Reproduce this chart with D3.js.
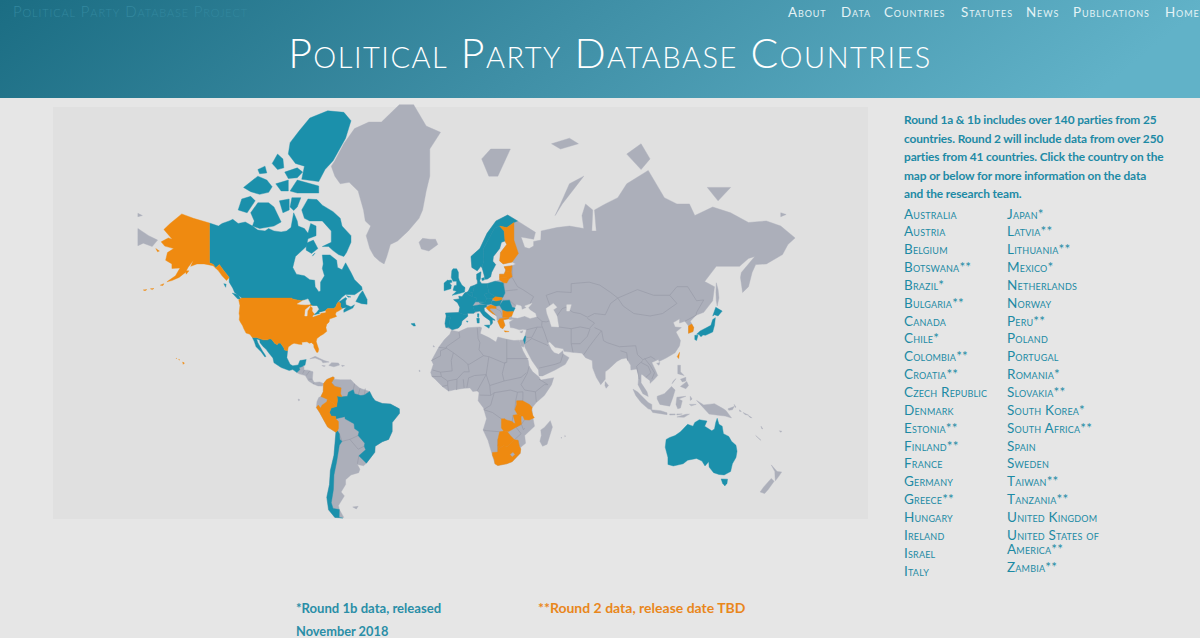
<!DOCTYPE html>
<html><head><meta charset="utf-8">
<style>html,body{margin:0;padding:0;background:#e6e6e6;overflow:hidden}svg{display:block}</style>
<script src="https://cdn.jsdelivr.net/npm/d3@7"></script></head>
<body><svg id="c" width="1200" height="638"></svg>
<script>
// ---- text ----
const navLabels=["About","Data","Countries","Statutes","News","Publications","Home"];
const intro=["Round 1a & 1b includes over 140 parties from 25","countries. Round 2 will include data from over 250","parties from 41 countries. Click the country on the","map or below for more information on the data","and the research team."];
const listLeft=["Australia","Austria","Belgium","Botswana**","Brazil*","Bulgaria**","Canada","Chile*","Colombia**","Croatia**","Czech Republic","Denmark","Estonia**","Finland**","France","Germany","Greece**","Hungary","Ireland","Israel","Italy"];
const listRight=["Japan*","Latvia**","Lithuania**","Mexico*","Netherlands","Norway","Peru**","Poland","Portugal","Romania*","Slovakia**","South Korea*","South Africa**","Spain","Sweden","Taiwan**","Tanzania**","United Kingdom","United States of","America**","Zambia**"];
const eurasia=[[-9,37,-9.5,38.8,-8.8,42,-9.2,43.2,-1.8,43.4,-1.2,45.5,-2.5,47.3,-4.7,48.4,-1.5,48.7,-1.8,49.7,0,49.5,1.6,50.9,3.5,51.4,4.7,53,7,53.5,8.6,54,8.2,55.5,8.2,57,10.6,57.7,10.2,55.5,9.8,54.9,11,54,14,54,18.5,54.8,21,55.2,21,57,23.5,57,24.4,58.3,23.5,59.2,28,59.5,30,60,28,60.5,23,60,21.3,60.8,21.5,63,25,65,24,65.8,22,65.5,21,64,17.5,62,17.2,60.7,18.8,59.8,16.5,57.5,16,56.2,14.2,55.5,13,55.4,11.2,59,10.5,59.3,8.5,58,5.5,59,5,62,10,64,14,67.5,19,70,25.5,71.1,31,70,41,67.7,40,66.2,33,66.7,35,64.3,37.5,64,40,64.6,40,65.7,44,66,44.2,68,53,68.7,60,69,68,68.5,67,71,69,73,73,72,72.5,68,75,68,74,72,80,73,87,74,92,76,104,77.7,113,74,120,73,127,73,130,71,140,72.5,150,71.5,160,69.7,170,70,178,69,186,66.5,182,65,179,62.5,170,60,164,59.8,162,57.5,160,53,156.7,51,155.5,56,156,57.5,163.5,62,160,61.5,155,59.3,142,59.3,135.5,54.7,141,53,140,48,135,43.5,130.7,42.3,127.5,39.8,129.4,37,129,35.2,126.5,34.4,126.5,37.7,124.5,39.8,121.5,39,121.5,40.8,118,39.2,119,37.3,122.5,37,119.5,35,122,31,121.5,28.5,119,25,114,22.3,110,20.5,109.7,21.5,106,20,108,16,109.3,13,107,10.5,105,8.7,105,10.2,102.5,12,100.8,13.4,100,13.5,100,9,103.3,4,104,1.4,101,3,98.3,8,98.7,13,97.5,16.5,94.3,16,94.2,18.5,91.8,22.3,89,21.8,86.5,20.5,82,16.5,80,15,80,11,77.5,8,75,12,73,17,72.7,21,69,22.5,67,24.8,61.5,25.2,57,25.7,56.5,27,52,27.7,49,30.3,48,30,50,26.5,51.5,25,54,24.2,56.3,26,56.5,24.4,59.8,22.5,57.7,19,52,16,45,12.8,43,12.8,42.7,16,39,21,35,28,34.9,29.5,34.3,27.8,33,28.5,32.5,29.9,32.3,31.2,34.2,31.3,35,32.7,36,36,34,36.3,32,36,29,36.8,27,37,26.5,39.5,29,40.6,26.7,40.5,26,40.7,23,40.4,24,38,22.8,36.5,21.5,37,19.5,40.5,19.4,42,15,44,13.7,45.5,12.3,45.3,12.5,44,16,41.7,18.5,40.2,16.9,40.4,17,39,16,38,15.7,40,12,42,10,44,6.5,43.1,3.1,43.1,3.2,41.9,0,39.9,-0.5,38.2,-2,36.8,-5.5,36]];
const africa=[[-5.9,35.8,-2,35.1,3,36.9,10,37.3,11,36.9,10.2,34.3,15,32.4,19,30.3,20,32.7,25,31.6,29,31,32,31.2,32.5,29.9,34,26,37,21,37.5,18,39.5,15,43,12.2,44,10.5,51.2,11.8,50,8,46,2,41.5,-2,39,-5,39.5,-10,40.5,-15,35,-20,35.5,-24,32.8,-26,32.5,-29,28,-33,25,-34,20,-34.8,18.4,-34,17,-30,14.5,-22.5,11.8,-17,13.7,-11,12,-5,9,-1,9.5,3.5,8.5,4.5,6,4.2,4.5,6.2,1.5,6,-4,5.2,-7.5,4.4,-11,7,-15,11,-16.8,12.5,-17.5,14.7,-16,19,-17,21,-13,27.7,-9.8,31.5,-6.8,34]];
const southAmerica=[[-77.3,8.6,-75.5,10.8,-72,12.3,-71.5,11,-68,10.7,-62,10.7,-60,8.5,-57,6,-51.6,4.2,-50,1,-48.5,-1,-44.5,-2.5,-40,-2.8,-35,-5.5,-34.9,-8,-39,-13,-39,-17.9,-41,-22,-44.5,-23.2,-48.5,-25.5,-48.7,-28.5,-53.4,-33.7,-55,-34.9,-58.4,-34.3,-57,-36.5,-57.7,-38,-62,-39,-65,-41,-65,-43,-67.5,-46,-65.7,-47.5,-69,-51,-68.5,-52.4,-66,-55,-71,-55,-74.5,-52.5,-75.5,-48,-74,-43,-73.5,-37,-71.5,-30,-70.4,-18.3,-75,-15.5,-77,-12,-79.5,-7.5,-81.3,-4.8,-81,-1.5,-80,0.8,-78.8,1.4,-77.5,4,-77.4,7]];
const centralAmerica=[[-92.2,14.6,-91,17.2,-89.1,17.9,-88.3,18.5,-88.2,16,-86,15.9,-83.2,15,-83.6,11,-82.5,9.2,-79.5,9.5,-77.3,8.6,-77.9,7.2,-80.4,7.3,-83,8.3,-85.7,10,-87.5,13,-91,13.9]];
const greenland=[[-73,78.2,-71,78.8,-66,80.5,-60,81.8,-52,82.3,-45,82.3,-35,83.5,-27,83.5,-20,82,-12,81.5,-18,80,-18,77,-20,75,-22,72,-24,70.5,-30,68,-36,65.8,-40,65,-42,62,-43.5,60,-46,60.7,-49,62,-51.5,64,-53.5,67,-51,69,-54,70,-55,72,-58,75,-63,76.2,-68,76,-71,77]];
const greyIslands=[
[-24,65.5,-22,66.4,-18,66.2,-14.8,66.2,-13.5,65,-18.5,63.4,-22.7,63.9],[11,79,16,80,27,80,20,77,15,77],[52,71,56,73,68,77,60,76,55,73],[50,80.5,60,81,65,80.5,55,80],[92,79.5,100,80.5,105,79,100,77.8],[137,75.5,150,75.5,143,73.5],[178,71.5,181,71.2,178,70.8],
[-181,68.5,-175,67,-170,66,-173,64.5,-178,65.3,-181,64.7],[-181,71.4,-178.5,71,-181,70.8],
[-85,21.9,-82,23.2,-77,21,-74.2,20.2,-77.7,19.8,-78.5,21,-82,22.3],[-74.4,18.4,-72.8,19.9,-69,19.7,-68.4,18.6,-71.5,17.7],[-78.3,18.4,-76.3,18.2,-77,17.8],[-67.2,18.5,-65.6,18.3,-67,17.9],[-61,-51.5,-58,-51.3,-59,-52.2],[-91.5,0,-90.5,-0.5,-91.3,-1],
[49.3,-12,50.5,-15.5,47.5,-24.5,45,-25.5,43.5,-23,44.3,-20,44,-17,46,-15.7],[57.4,-20,57.8,-20.3,57.4,-20.6],[55.3,-21,55.8,-21.1,55.4,-21.4],[-16,28.6,-15.3,28,-16,27.9],[-24,16,-23.3,15.5,-23.8,15],[34,35.6,32.3,35,33.5,34.6],
[142,54.3,143,52,143.5,49,142.5,46,142,48,141.8,51],[80,9.7,81.8,7.5,80.5,6,79.8,7.5],[108.7,19.5,110.5,20,110,18.5],[95.5,5.5,98,4,104,-2,106,-3,106,-6,104,-5.5,100,-2,97,2],[109,1.5,113,3,117,7,119,5,117.8,1,116,-4,110.5,-3,109,0],[105.5,-6,111,-6.5,114.5,-7.7,114.5,-8.7,106.5,-7.5],[116,-8.3,119,-8.3,119,-8.8,116,-8.9],[120,-8.3,123,-8.3,120,-8.9],[120,-10,125,-8.5,127,-8.4,124,-10.2],[120,1,125,1.5,121,0,123,-1,122,-5,120.5,-5.5,119.5,-3],[127.5,1.5,128.5,0,127.5,-0.8],[127,-3,130.8,-3,128,-3.8],[131,-0.8,135,-3.3,141,-2.6,146,-5.5,147.5,-6.5,150.5,-10.5,147,-9.5,143,-9,138,-8.4,134,-4],[148.5,-5.5,152,-4.2,151,-6,149,-6.3],[152,-3,153,-4.5,152.5,-4.7],[155,-6,156,-7,155,-6.8],[157,-7.5,160,-9,158,-8.6],[160,-9.2,162,-10.5,160.5,-10],[120.5,18.5,122,18.5,122,15,124,13,120.5,14],[122,7,125.5,9.7,126.5,7.5,125,5.7],[122,11,125,12,125,10,123,9.5],[118,10,119.5,11.3,117.3,8.5],
[164,-20,167,-22.5,166,-21.8],[167,-15,168,-16.5,167.3,-16.2],[177.2,-17.5,178.6,-17.7,178,-18.3],[172.7,-34.5,176,-37.5,178.5,-37.7,177,-39.5,175,-41.5,174.8,-39.8,174.7,-37.5],[172.7,-40.5,174.3,-41.7,171,-45,169,-46.6,166.5,-46,168.5,-44]
];
const borders=[
[-1.7,35,-1.2,32.5,-8.7,28,-8.7,27.3,-13,27.7],[-8.7,27.3,-12,26,-12,23.4,-17,21],[-8.7,27.3,-4.8,25,-6,21,-5.5,15.5,-12,14.8,-16.5,16],[-4.8,25,1,21,3.3,19,4.2,19.1,12,23.5],[8.5,36.9,9,32,10,30,9.5,26.5,12,23.5],[25,31.6,25,20,24,20,24,19.5,15,23,12,23.5],[25,22,37,22],[24,20,22.5,14,23.5,10],[15,23,13.5,13.5],[3.7,11.7,7,13,13.5,13.5],[3.3,19,4,15,1,15,-2.8,11,-5.5,10.5,-8,10],[2.7,6.3,3.7,11.7],[8.5,4.6,13.5,13.5],[15.5,7.5,23.5,10],[13.5,13.5,15.5,7.5,16,2],[9.8,2.2,16,2,18,3.5,27,5,31,3.8,34,4],[23.5,10,33,12,36,14.5],[37.5,18,36.5,14.3,33,8,35,5,41,4,46,8,48,8,43,11],[34,4,34,1,33.9,-1],[41,4,41.5,-1.7],[18,3.5,16,-3.5,12.2,-5.8],[12.2,-6,17,-7.5,22,-11],[11.8,-17,13.7,-17.4,21,-18],[20,-22,20,-28.4],[-12,14.8,-11.5,12.4,-16.8,12.5],[-11.5,12.4,-8,10,-8,7.7,-11,7],[-8,7.7,-7.5,4.4],[-3,5,-2.8,11],[1.2,6.1,0.7,11],[31,3.8,30,-1,29.5,-6],[31,-1,34,-1],[34.9,-11.5,33.2,-14,34.3,-17,35,-16],[33.2,-14,30.2,-15.6],[29.3,-22.2,33,-19,30.2,-15.6],[32,-25.5,31.3,-22.4],[28.5,-9,28,-12.5],
[-60.7,5.2,-60,8.5],[-56.9,6,-58,2],[-54,5.8,-54.5,2.3],[-67.5,6.2,-71,7,-72.9,9,-71.3,11.8],[-68.5,-19,-67,-23,-62.6,-22,-58,-20],[-62.6,-22,-58,-27,-54.6,-25.5],[-58.4,-34,-57.6,-30.2],[-89,14,-88,16],[-87,13,-85,15.5],[-83.5,11,-85.7,11],[-83,8.3,-82.5,9.2],
[28,59.5,28,56,31,53,34,52,40,49.5,38,47],[23.5,51.5,31,52],[22.2,48.3,26.5,48.2,30,46],[24,50.8,23.5,51.5,23.3,54.3],[26.5,55.7,28,56],[19,45,21.5,44,22.8,41.4,20.5,41],[19.4,42,18.5,42.5],[19,45.8,19,45],[49,46.3,47,50,53,51.3,61,51,61,54,71,54.5,77,53.5,83,51,87,49],[87,49,98,52,107,50,116,50,120,47,112,43,105,42,96,43,90,46,87,49],[116,50,120,53,126,53,131,48,135,48.3,131,43.5,130.7,42.3],[130.7,42.3,124.5,39.8],[53,42,56,45,58,45.5,62,43.5,66,43,70,41.5,74,43,80,42.5,83,47,87,49],[54,37.3,61,36.5,66,37.3,71,36.5,74,39,70,41],[48,30,46,35,44.5,38,44.7,39.7,42,41.5],[36,36,42,37.2,44.5,37.2],[42,37.2,39,32.5,36,32.5],[35,29.4,39,32,47,29,48,28.5],[43,17,52,19,55,20,56.5,24.4],[61,36.5,61,29.5,62,25.2],[61,29.5,66,29.5,70,33,71.5,36.5],[68,24,71,28,74.5,32,77.8,35.5],[74,37,78,35.5,79,31,81,30,88,28,97,28.5,98,24,101,21.5,105.5,23,108,21.5],[101,21,97.5,18,99,11],[100,20,104,18,105.5,14.5,102.7,12],[102,22,105,18.5,107.5,14.5,106,11],[88.5,26,92,25,92.5,21],[44.7,39.7,47,39.5,49,40]
];
const blackSea=[27.9,42.5,28.7,43.8,29.7,45.2,30.5,46.5,33,46,33.5,44.5,36,45.3,35,46,39,47,37,45.3,38,44.4,41,43,41.5,41.7,38,41,35,42,31,41.2,28,41.5];
const caspian=[47,45,51,47,53,45.5,51,44.5,53,42,54,37.3,50,37.5,49,40,47.5,43];
const aral=[58.5,46.5,61,46.5,60,44,58.5,44];
const greatLakes=[[-92,46.8,-89,48,-86,48.7,-84.7,47,-85,46.6,-87.5,46.5,-90,46.6],[-87.8,42,-87.5,44.5,-85,46,-84.8,45.7,-86.3,44,-86.5,42],[-84.5,46,-81,46,-80,44.7,-81.7,43.2,-82.5,43,-83.5,44,-83.3,45.2],[-83.3,41.7,-79,42.8,-79,43,-83,42.2],[-79.7,43.3,-76.3,44,-76.3,43.5,-79,43.2]];
const water=[blackSea,caspian,aral];
// teal countries
const canada=[[-141,69.6,-136,69,-134,69.5,-130,70,-128,70.3,-125,69.5,-121,69.8,-117,69,-114,68.2,-110,68,-108,68.5,-105,68,-101,67.8,-98,68,-95.5,68.7,-94,71.5,-92,70,-91.5,69,-88,68.5,-86,67.5,-84.5,69.5,-81.5,69,-81.5,67,-86,66.3,-87,64.5,-93,62,-94.5,59,-92.5,57,-88,56.5,-85,55.3,-82.3,55.1,-82,53,-80,51.3,-79,51.5,-79,54.5,-76.8,56.5,-78,58.7,-77.5,60,-78,62.4,-73.7,62.4,-70,61,-69.5,59,-67,58.3,-65,60.3,-62,57.5,-60,55.3,-56,53,-55.7,52,-60,50.2,-65,50.3,-67,49.3,-70,47,-65,49.2,-64.3,48.8,-65,47.9,-64.8,46.5,-62,45.7,-60,46.5,-61,45.2,-66,43.5,-66,44.5,-64.5,45.4,-67,45.1,-67.8,45.7,-67.8,47.07,-68.3,47.35,-69.2,47.45,-70,46.7,-70.3,45.9,-71.5,45,-75,45,-76.3,44.2,-76.8,43.6,-79.1,43.5,-78.9,42.9,-82.7,41.7,-83.1,42,-82.5,42.6,-82.1,43.6,-82.5,45.3,-83.6,46.1,-84.5,46.5,-84.9,46.9,-88.4,48.3,-89.5,48,-92,48.3,-94.6,48.7,-95.2,49,-123,49,-125,50,-127,51,-128,52.5,-130,54.5,-130,56,-133.5,58.4,-135.5,59.8,-137.5,58.9,-139,59.9,-141,60.3],
[-89.5,72,-86,73.8,-81,73.7,-78,72.8,-72,71.7,-68,70.5,-67,69,-62,67,-62,65.5,-64.5,63,-66,62,-69,62.5,-72,63.5,-74.5,64.5,-78,64.5,-73,65.5,-73,68,-78,70,-85,70,-88,70.5],
[-118,71.5,-114,73.2,-108,73.2,-105,72.5,-101,69.8,-105,69,-113,68.5,-117,69,-116,70],[-125,72,-123,73.8,-118,74.2,-115.5,73.5,-120,71.5],[-122,75.5,-114,77,-109,76.5,-106,75.6,-108,74.8,-113,74.5,-118,74.9],[-96,75,-92,76.5,-80,75.7,-80,74.7,-92,74.7],
[-89.5,76.6,-80,76.3,-76.5,77.8,-72,78.8,-65,81,-62,82.4,-66,83,-75,83.1,-85,82.6,-91,81.6,-96,80.6,-97,79.5,-93,78.5,-88,78.2],
[-106,78.5,-103,79.5,-100,79,-99.5,78,-103,77.8],[-99,77.5,-92,78,-89,77.5,-92,76.8,-97,76.7],[-114,77.8,-110,78.2,-109,77.4,-113,77.3],[-96,72.5,-95,74,-90,74,-92,72.5,-94,71.9],[-102,73.5,-96.5,73.8,-96.5,72,-100,71.5],[-104,76,-97,76.5,-97,75,-101,75],[-87,65.3,-83,66,-80.5,64,-84,62.8,-87,63.6],[-59.3,47.7,-57,50.5,-55.5,51.6,-53,48.5,-53,46.7,-56,46.9],[-128.3,50.8,-125,50.2,-123.4,48.4,-125.5,48.8],[-133,54,-131.7,53.8,-132,52.8],[-64.5,49.9,-62,49.4,-63.5,49.3],[-83,62.5,-82,62.9,-83.5,62.1]];
const mexico=[[-117.1,32.5,-114.8,32.5,-111,31.33,-108.2,31.33,-108.2,31.78,-106.5,31.75,-104.5,29.6,-103.2,29,-102.7,29.7,-101.4,29.8,-99.5,27.5,-99.2,26.4,-97.4,26,-97.8,22.5,-96,19,-94.5,18.2,-91.5,18.7,-90.5,21,-87,21.5,-87.7,18.5,-88.3,18.5,-89.1,17.9,-91,17.2,-90.5,16.2,-92.2,14.6,-94.5,16.2,-96.5,15.7,-101,17.3,-105,19.8,-105.6,22.3,-108,25,-109.4,26.7,-111,28,-112.8,30,-113,31.3,-114.7,31.7,-114,30,-111.5,26,-110,24,-109.5,23,-110.2,23,-112.2,25.5,-115,28,-116,30.5]];
const brazil=[[-51.6,4.2,-50,1,-48.5,-1,-44.5,-2.5,-40,-2.8,-35,-5.5,-34.9,-8,-39,-13,-39,-17.9,-41,-22,-44.5,-23.2,-48.5,-25.5,-48.7,-28.5,-53.4,-33.7,-57.6,-30.2,-53.8,-27.2,-54.6,-25.5,-54.3,-24,-55.8,-22.3,-58,-20,-57.5,-18,-60,-16.3,-60.3,-13.7,-65.3,-11,-65.4,-9.8,-70.5,-11,-70.5,-9.7,-73,-9.5,-74,-7.5,-73,-5,-70,-4.2,-69.5,-0.5,-69.8,1.7,-67,1.2,-64,1.5,-63.4,3.8,-60.7,5.2,-60,3,-56.5,1.9,-54.5,2.3]];
const chile=[[-69.5,-17.5,-68.5,-19,-68.2,-22,-67,-23,-68.5,-25,-70,-33,-71.5,-39,-71.8,-45,-73,-50,-72,-52,-68.5,-52.4,-68.6,-55,-66.5,-55.2,-71,-55,-74.5,-52.5,-75.5,-48,-74,-43,-73.5,-37,-71.5,-30,-70.4,-18.3]];
const australia=[[114,-22,113.5,-26,115,-31,115,-34.3,118,-35,123.5,-34,126,-32.3,131,-31.5,134,-32.7,135.7,-35,137.8,-33,138,-35.5,140.5,-38,143.5,-38.8,146.4,-39,150,-37.5,151,-34,153,-31,153.6,-28,153,-25,150.5,-23,149,-20.5,146,-19,145.3,-15,143.5,-14,142.5,-10.7,141.7,-13,141,-16.5,139.5,-17.5,135.5,-15,136.8,-12.2,132.5,-11.5,130,-13,129,-15,126,-14,122,-18,119,-20,116,-21],[144.7,-40.7,148.3,-40.8,148,-42.5,146.8,-43.6,145.5,-42.5]];
const japan=[[131,34,136,33.5,140,35,141,38,141.5,41.3,140,40.5,139,38,136.7,37,133,35.5],[140,42,141.7,45.5,145.3,44,143,42,141,42.5],[130,33.5,131.8,33.5,131,31,130,31.5],[132.5,34,134.5,34,134,33,133,33]];
const unitedKingdom=[[-5,58.6,-3,58.6,-2,57.6,-2,56,-1.5,55,0,53.5,1.7,52.7,1.4,51.2,-1,50.7,-5.5,50,-3,51.4,-5,51.8,-4.3,53.3,-3,53.5,-3,54.8,-5,54.8,-6,56,-5.7,58],[-6,55.2,-5.5,54.5,-7.5,54.2,-8,55]];
const ireland=[[-8,55.2,-6,53.5,-6.2,52.3,-10,51.6,-10,54.2]];
const norway=[[5.5,59,8.5,58,10.5,59.3,11.2,59,12.2,61,12,64,14,65.5,18,68.5,21,69,25,68.7,29,69.7,31,70,25.5,71.1,19,70,14,67.5,10,64,5,62]];
const sweden=[[11.2,59,13,55.4,14.2,55.5,16,56.2,16.5,57.5,18.8,59.8,17.2,60.7,17.5,62,21,64,22,65.5,24,65.8,23.5,68,21,69,18,68.5,14,65.5,12,64,12.2,61]];
const denmark=[[8.8,54.9,8.2,55.5,8.2,57,10.6,57.7,10.2,55.5,9.8,54.9],[11,55.7,12.6,56,12.5,55.2,11.2,55]];
const germany=[[7,53.5,8.6,54,8.8,54.9,9.8,54.9,11,54,14,54,15,51,12.2,50.3,13.8,48.8,13,47.5,7.5,47.6,8.2,49,6,49.5,6,50.8]];
const france=[[-1.8,43.4,-1.2,45.5,-2.5,47.3,-4.7,48.4,-1.5,48.7,-1.8,49.7,0,49.5,1.6,50.9,2.5,51,4.2,50,6,49.5,8.2,49,7.5,47.6,6,46.2,7,44,7.5,43.8,6.5,43.1,3.1,43.1,3.1,42.4,0.7,42.7],[8.6,42.9,9.5,42.9,9.3,41.4,8.7,41.6]];
const spain=[[-9.2,43.2,-1.8,43.4,0.7,42.7,3.1,42.4,3.2,41.9,0,39.9,-0.5,38.2,-2,36.8,-5.5,36,-7.4,37.2,-7,39.5,-6.4,41.5,-8.2,42,-8.8,42],[2.4,39.9,3.4,39.8,3,39.3]];
const portugal=[[-9,37,-7.4,37.2,-7,39.5,-6.4,41.5,-8.2,42,-8.8,42,-9.5,38.8],[-28.5,38.7,-26.5,38.9,-26,37.7,-27,37.7]];
const italy=[[7,44,6,46,10,46.5,13.7,46.5,13.7,45.7,12.3,45.3,12.5,44,16,41.7,18.5,40.2,16.9,40.4,17,39,16,38,15.7,40,12,42,10,44,7.5,43.8],[12.5,38,15.6,38.2,15.1,36.7],[8.2,41,9.7,41,9.6,39,8.5,39]];
const netherlands=[[3.5,51.4,4.7,53,7,53.5,6,50.8]];
const belgium=[[2.5,51,3.5,51.4,6,50.8,6,49.5,4.2,50]];
const austria=[[9.5,47.3,13,47.5,13.8,48.8,15,49,17,48.7,16.2,46.8,13.7,46.5,10.5,47]];
const poland=[[14,54,18.5,54.8,23,54.3,24,50.8,22.8,49.2,19,49.4,15,51]];
const czechRepublic=[[12.2,50.3,15,51,18.8,49.5,17,48.7,15,49,13.8,48.8]];
const hungary=[[16.2,46.8,17,48,18.8,47.9,22.2,48.4,21,46.2,18.5,45.9]];
const romania=[[21,46.2,22.8,48,26.5,48.2,28,45.5,29.7,45.2,28.7,43.8,25,43.7,22.7,44.3]];
const israel=[[34.3,31.3,35,32.9,35.6,33.2,35.4,31,35,29.5]];
// orange countries
const unitedStates=[[-124.7,48.4,-123,49,-95.2,49,-94.6,48.7,-92,48.3,-89.5,48,-88.4,48.3,-84.9,46.9,-84.5,46.5,-83.6,46.1,-82.5,45.3,-82.1,43.6,-82.5,42.6,-83.1,42,-82.7,41.7,-78.9,42.9,-79.1,43.5,-76.8,43.6,-76.3,44.2,-75,45,-71.5,45,-70.3,45.9,-70,46.7,-69.2,47.45,-68.3,47.35,-67.8,47.07,-67.8,45.7,-67,44.9,-69,44,-70.2,43.6,-70.7,42.7,-70,41.8,-71.5,41.4,-74,40.7,-74.2,39.5,-75.5,38.5,-76,37,-75.5,35.3,-77.5,34,-79,33.3,-81,32,-81.4,30.5,-80.5,28,-80,26.8,-80.4,25.2,-81.2,25.2,-81.8,26.2,-82.7,27.8,-82.8,29,-84,30,-85.3,29.7,-86.5,30.4,-88,30.3,-89.5,30.2,-89.3,29.1,-91,29.2,-93.8,29.7,-95,29.2,-97,27.9,-97.4,26,-99.2,26.4,-99.5,27.5,-101.4,29.8,-102.7,29.7,-103.2,29,-104.5,29.6,-106.5,31.75,-108.2,31.78,-108.2,31.33,-111,31.33,-114.8,32.5,-117.1,32.5,-118.5,34,-120.6,34.5,-121.9,36.6,-122.5,37.8,-123.8,39.5,-124.4,40.4,-124.2,42,-124.5,43,-124,46.2],
[-141,69.6,-141,60.3,-139,59.9,-137.5,58.9,-135.5,59.8,-133.5,58.4,-130,56,-131.5,55,-134,56.5,-136,58,-139,59.5,-144,60,-148,60,-151.5,59.3,-150,61,-153,59,-154.5,57.5,-158,56,-162,55,-164.8,54.6,-160,56.5,-157.5,58.8,-162,58.7,-162,60,-165.5,61,-164.5,63,-161,64,-166,64.6,-168,65.6,-164,66.5,-161.8,66.2,-166.5,68.3,-163,69.5,-156.5,71.3,-150,70.5],
[-171,64,-169,63.4,-170,63.2],[-154.5,58,-152.5,58,-154,57],[-168.5,53.5,-166.5,54,-167,53.4],[-174,52.3,-172,52.4,-173,52],[-178,51.9,-176,52,-177,51.6],[-156,20.2,-155,19.7,-155.7,19],[-158.2,21.6,-157.7,21.4,-158,21.2],[-159.7,22.2,-159.3,22.1,-159.5,21.9]];
const colombia=[[-77.3,8.6,-75.5,10.8,-72,12.3,-71.3,11.8,-72.9,9,-71,7,-67.5,6.2,-67.8,3,-67,1.2,-69.8,1.7,-69.5,-0.5,-70,-4.2,-70.7,-3.7,-72,-2.4,-75.2,-0.1,-78.8,1.4,-77.5,4,-77.4,7]];
const peru=[[-75.2,-0.1,-72,-2.4,-70.7,-3.7,-70,-4.2,-73,-5,-74,-7.5,-73,-9.5,-70.5,-9.7,-70.5,-11,-69,-12.5,-69,-16.2,-69.5,-17.5,-70.4,-18.3,-75,-15.5,-77,-12,-79.5,-7.5,-81.3,-4.8,-80.3,-3.4,-79,-5,-78.2,-3.5,-75.5,-1.5]];
const zambia=[[22,-11,24,-11,24.5,-11.5,28,-12.5,29,-13.4,29.8,-13.4,28.5,-9,31,-8.6,33,-9.5,33,-12,33.2,-14,30.2,-15.6,28.5,-16.5,26,-17.9,25.2,-17.8,23.3,-17.6,22,-16,22,-13]];
const tanzania=[[33.9,-1,37.7,-3.1,39.2,-4.7,38.8,-6.3,39.5,-9,40.4,-10.4,37.5,-11.7,34.9,-11.5,34,-9.5,33,-9.5,31,-8.6,29.5,-6,30.5,-3,30.5,-1]];
const botswana=[[20,-22,21,-18,23.3,-17.6,25.2,-17.8,27,-20,29.3,-22.2,26.5,-24.7,25.5,-25.6,23,-25.3,20.8,-26.8,20,-24.8]];
const southAfrica=[[17,-28.6,20,-28.4,20,-24.8,20.8,-26.8,23,-25.3,25.5,-25.6,26.5,-24.7,29.3,-22.2,31.3,-22.4,32,-25.5,32.8,-26.9,32.5,-29,28,-33,25,-34,20,-34.8,18.4,-34,18,-32,17,-30]];
const finland=[[21,60.8,23,60,28,60.5,31.5,62.8,29,66,29,69.7,25,68.7,21,69,23.5,68,24,65.8,25,65,21.5,63]];
const estonia=[[23.5,59.2,28,59.5,27.5,57.6,24.4,58,24.4,58.3]];
const latvia=[[21,57,21,56.1,26.5,55.7,28,56.2,27.5,57.6,24.4,58,23.5,57]];
const lithuania=[[21,55.2,21,56.1,26.5,55.7,25,54.2,23.3,54.3]];
const slovakia=[[17,48.7,18.8,49.5,22.5,49.1,22.2,48.4,18.8,47.9]];
const croatia=[[13.7,45.5,16,46.4,19,45.8,19,45,16,45.1,15.5,44.6,18.5,42.5,17,43,13.7,45]];
const bulgaria=[[22.7,44.3,25,43.7,28.7,43.8,27.8,42,26,41.4,22.8,41.4]];
const greece=[[20,39.7,21,40.8,26.2,41.4,26,40.8,23,40.4,24,38,22.8,36.5,21.5,37],[23.6,35.6,26.3,35.2,24,35]];
const southKorea=[[126.5,37.7,128.3,38.6,129.4,37,129,35.2,126.5,34.4]];
const taiwan=[[121.5,25.2,121,22,120.2,23]];
const lesotho=[[27,-29.6,28.5,-28.6,29.4,-29.6,28,-30.6]];
const greyCountries=[eurasia,africa,southAmerica,centralAmerica,greenland,greyIslands];
const tealCountries=[canada,mexico,brazil,chile,australia,japan,unitedKingdom,ireland,norway,sweden,denmark,germany,france,spain,portugal,italy,netherlands,belgium,austria,poland,czechRepublic,hungary,romania,israel];
const orangeCountries=[unitedStates,colombia,peru,zambia,tanzania,botswana,southAfrica,finland,estonia,latvia,lithuania,slovakia,croatia,bulgaria,greece,southKorea,taiwan];

const svg=d3.select("#c");
const defs=svg.append("defs");
const g=defs.append("linearGradient").attr("id","hdr").attr("x1","0").attr("x2","1").attr("y1","0").attr("y2","0.1");
g.append("stop").attr("offset","0").attr("stop-color","#1b6d83");
g.append("stop").attr("offset","0.5").attr("stop-color","#3f8fa6");
g.append("stop").attr("offset","1").attr("stop-color","#61b2c8");
svg.append("rect").attr("width",1200).attr("height",638).attr("fill","#e6e6e6");
svg.append("rect").attr("width",1200).attr("height",98).attr("fill","url(#hdr)");
svg.append("rect").attr("x",53).attr("y",107).attr("width",815).attr("height",412).attr("fill","#e0e0e0");

const mapScale=102.6;
const projection=d3.geoMercator().scale(mapScale).translate([462,399]);
// the source map overlaps the date line, so longitudes past +/-180 keep running instead of wrapping
const project=([lon,lat])=>{
  const wrap=Math.abs(lon)>180?Math.sign(lon)*360:0;
  const p=projection([lon-wrap,lat]);
  return [p[0]+wrap*mapScale*Math.PI/180,p[1]];
};
const pairs=r=>d3.range(0,r.length,2).map(i=>[r[i],r[i+1]]);
const ringPath=d3.line().x(d=>project(d)[0]).y(d=>project(d)[1]).curve(d3.curveLinearClosed);
const openPath=d3.line().x(d=>project(d)[0]).y(d=>project(d)[1]);
const map=svg.append("g").attr("stroke-linejoin","round");
const TEAL="#1b90ab",ORANGE="#ef8a10",GREY="#acafba",BORDER="#989ba8",WATER="#e0e0e0";
function drawRings(rings,fill,stroke){
  map.append("g").selectAll("path").data(rings).join("path")
    .attr("d",r=>ringPath(pairs(r))).attr("fill",fill).attr("stroke",stroke).attr("stroke-width",0.4);
}
greyCountries.forEach(c=>drawRings(c,GREY,GREY));
map.append("g").selectAll("path").data(borders).join("path").attr("d",r=>openPath(pairs(r)))
  .attr("fill","none").attr("stroke",BORDER).attr("stroke-width",0.7);
drawRings(water,WATER,WATER);
tealCountries.forEach(c=>drawRings(c,TEAL,TEAL));
orangeCountries.forEach(c=>drawRings(c,ORANGE,ORANGE));
drawRings(lesotho,GREY,GREY);
drawRings(greatLakes,WATER,WATER);

// header text
const head="Lato";
const sc=s=>s.style("font-variant","small-caps").style("font-family",head);
svg.append("text").text("Political Party Database Project").attr("x",13).attr("y",17).attr("fill","#33889f")
  .call(sc).style("font-size","15px").style("letter-spacing","0.85px").style("font-weight",300);
const navX=[788,841,884,961,1026,1073,1165];
svg.append("g").selectAll("text").data(navLabels).join("text").text(d=>d)
  .attr("x",(d,i)=>navX[i]).attr("y",17).attr("fill","#e4f3f6").call(sc).style("font-size","13.4px").style("letter-spacing","0.9px");
svg.append("text").text("Political Party Database Countries").attr("x",610).attr("y",68).attr("text-anchor","middle")
  .attr("fill","#fff").call(sc).style("font-size","41px").style("font-weight",300).style("letter-spacing","1.5px");
// intro
svg.append("g").selectAll("text").data(intro).join("text").text(d=>d).attr("x",904).attr("y",(d,i)=>124+i*18.5)
  .attr("fill","#1d8aa5").style("font-family","Lato").style("font-weight",700).style("font-size","11.9px").style("letter-spacing","-0.12px");
// lists
const listY=(i)=>218.5+i*17.85;
const leftG=svg.append("g"), rightG=svg.append("g");
leftG.selectAll("text").data(listLeft).join("text").text(d=>d).attr("x",904).attr("y",(d,i)=>listY(i))
  .attr("fill","#1c8aa4").call(sc).style("font-size","13.5px").style("letter-spacing","0.2px");
const rightY=[0,1,2,3,4,5,6,7,8,9,10,11,12,13,14,15,16,17,18,18.78,19.78];
rightG.selectAll("text").data(listRight).join("text").text(d=>d).attr("x",1007).attr("y",(d,i)=>listY(rightY[i]))
  .attr("fill","#1c8aa4").call(sc).style("font-size","13.5px").style("letter-spacing","0.2px");
// footnotes
const foot=s=>s.style("font-family","Lato").style("font-weight",700);
svg.append("text").text("*Round 1b data, released").attr("x",296).attr("y",613).attr("fill","#2a8ea7").call(foot).style("font-size","13.1px");
svg.append("text").text("November 2018").attr("x",296).attr("y",636).attr("fill","#2a8ea7").call(foot).style("font-size","12.8px");
svg.append("text").text("**Round 2 data, release date TBD").attr("x",538).attr("y",613).attr("fill","#e9871c").call(foot).style("font-size","14px");
</script></body></html>
